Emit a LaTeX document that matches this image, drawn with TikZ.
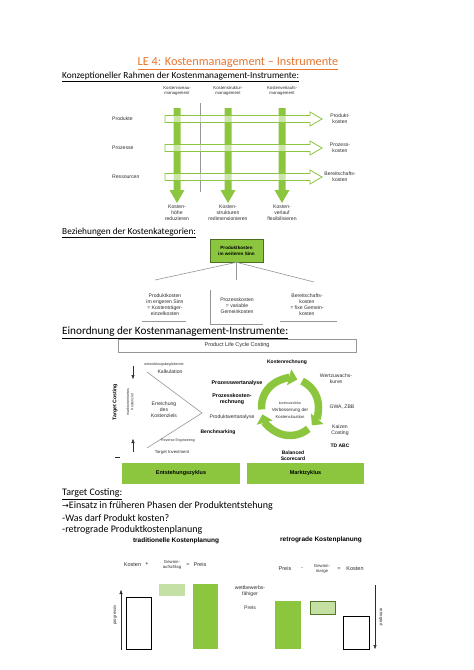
\documentclass[tikz,border=0pt]{standalone}
\usepackage{fontspec}
\setmainfont{Carlito}
\newfontfamily\arial{Liberation Sans}
\newfontfamily\dejavu{DejaVu Sans}
\usetikzlibrary{arrows.meta}
\definecolor{kgreen}{RGB}{140,198,63}
\definecolor{lgreen}{RGB}{197,224,165}
\definecolor{ttl}{RGB}{232,118,46}
\definecolor{dgray}{RGB}{45,45,45}
\definecolor{lgray}{RGB}{150,150,150}
\tikzset{
  sec/.style={anchor=west, inner sep=0pt, font=\fontsize{9.3}{11}\selectfont},
  tcs/.style={anchor=west, inner sep=0pt, font=\fontsize{10}{12}\selectfont},
  lb/.style={align=center, inner sep=0pt, text=dgray, font=\arial\fontsize{5.1}{6}\selectfont},
  lbs/.style={align=center, inner sep=0pt, text=dgray, font=\arial\fontsize{4.3}{5.1}\selectfont},
  lbx/.style={align=center, inner sep=0pt, text=dgray, font=\arial\fontsize{3.6}{4.4}\selectfont},
  lbb/.style={align=center, inner sep=0pt, text=black, font=\arial\bfseries\fontsize{5}{6}\selectfont},
  lbm/.style={align=center, inner sep=0pt, text=dgray, font=\arial\fontsize{5.5}{6.5}\selectfont},
  hollow/.style={draw=kgreen, line width=0.8pt, fill=white, fill opacity=0.55},
  gline/.style={draw=lgray, line width=0.6pt},
  axisarrow/.style={draw=dgray, line width=0.5pt, -{Triangle[width=3pt,length=4pt]}},
  ringarrow/.style={draw=kgreen, line width=7.5pt, -{Triangle[width=16pt,length=8.5pt]}},
  barnode/.style={fill=kgreen, inner sep=0pt, text=black, font=\arial\bfseries\fontsize{5.5}{6.5}\selectfont},
}
\begin{document}
\begin{tikzpicture}[x=1pt,y=-1pt]
\useasboundingbox (0,0) rectangle (474,670);
\fill[white] (0,0) rectangle (474,670);

% ---------- title and first heading
\node[inner sep=0pt, text=ttl, font=\fontsize{12.3}{14}\selectfont] (title) at (238,64) {\underline{LE 4: Kostenmanagement – Instrumente}};
\node[sec] (s1) at (62,77) {\underline{Konzeptioneller Rahmen der Kostenmanagement-Instrumente:}};

% ---------- diagram 1
\foreach \x in {177,228,282}{
  \fill[kgreen] (\x-3.5,108) -- (\x+3.5,108) -- (\x+3.5,190) -- (\x+7.5,190) -- (\x,203) -- (\x-7.5,190) -- (\x-3.5,190) -- cycle;
}
\draw[gline] (200.5,103) -- (200.5,192);
\foreach \y in {119,148,177}{
  \filldraw[hollow] (165,\y-3.5) -- (310,\y-3.5) -- (310,\y-7) -- (322,\y) -- (310,\y+7) -- (310,\y+3.5) -- (165,\y+3.5) -- cycle;
}
\node[lbs] (h1) at (177,91) {Kostenniveau-\\management};
\node[lbs] (h2) at (228,91) {Kostenstruktur-\\management};
\node[lbs] (h3) at (282,91) {Kostenverlaufs-\\management};
\node[lb, anchor=west] (r1) at (112,119) {Produkte};
\node[lb, anchor=west] (r2) at (112,148) {Prozesse};
\node[lb, anchor=west] (r3) at (112,177) {Ressourcen};
\node[lb] (k1) at (340,119) {Produkt-\\kosten};
\node[lb] (k2) at (340,148) {Prozess-\\kosten};
\node[lb] (k3) at (340,177) {Bereitschafts-\\kosten};
\node[lb] (b1) at (177,213) {Kosten-\\höhe\\reduzieren};
\node[lb] (b2) at (228,213) {Kosten-\\strukturen\\redimensionieren};
\node[lb] (b3) at (282,213) {Kosten-\\verlauf\\flexibilisieren};

% ---------- diagram 2
\node[sec] (s2) at (62,233) {\underline{Beziehungen der Kostenkategorien:}};
\node[draw=kgreen!55!black, line width=0.6pt, fill=kgreen, minimum width=53pt, minimum height=23pt, inner sep=0pt, align=center, font=\arial\bfseries\fontsize{4.6}{5.8}\selectfont] (pk) at (236.5,250.5) {Produktkosten\\im weiteren Sinn};
\coordinate (e1) at (155,280);
\coordinate (e2) at (236.5,280);
\coordinate (e3) at (314,282);
\draw[gline] (pk.south) -- (e1);
\draw[gline] (pk.south) -- (e2);
\draw[gline] (pk.south) -- (e3);
\node[lb] (g1) at (165,304.5) {Produktkosten\\im engeren Sinn\\= Kostenträger-\\einzelkosten};
\node[lb] (g2) at (237,306) {Prozesskosten\\= variable\\Gemeinkosten};
\node[lb] (g3) at (307,304.5) {Bereitschafts-\\kosten\\= fixe Gemein-\\kosten};
\draw[gline] (142,321.5) -- (186,321.5);
\draw[gline] (210,290) -- (210,324) -- (263,324);
\draw[gline] (280,321.5) -- (337,321.5);

% ---------- diagram 3
\node[sec, font=\fontsize{11.2}{13}\selectfont] (s3) at (62,333) {\underline{Einordnung der Kostenmanagement-Instrumente:}};
\node[draw=lgray, line width=0.6pt, minimum width=238pt, minimum height=13pt, inner sep=0pt, text=dgray, font=\arial\fontsize{5.5}{6.5}\selectfont] (plcc) at (237,345.5) {Product Life Cycle Costing};

\node[lbb, rotate=90, font=\arial\bfseries\fontsize{5.2}{6}\selectfont] (tc) at (115,402) {Target Costing};
\node[lbx, rotate=90] (mk) at (130,402) {marktorientiertes\\Kostenziel};
\coordinate (ta1) at (133,366);
\coordinate (ta2) at (133,379);
\coordinate (tb1) at (133,452);
\coordinate (tb2) at (133,439);
\draw[axisarrow] (ta1) -- (ta2);
\draw[axisarrow] (tb1) -- (tb2);
\draw[dgray, line width=0.6pt] (115,457) -- (120,457);

\draw[gline] (147,372) -- (202,413) -- (147,448);
\node[lb] (er) at (164,410) {Erreichung\\des\\Kostenziels};
\node[lbx] (ent) at (164,365) {entwicklungsbegleitende};
\node[lb] (kal) at (170,372) {Kalkulation};
\node[lbb, font=\arial\bfseries\fontsize{5.3}{6.3}\selectfont] (pwa) at (237,383) {Prozesswertanalyse};
\node[lbb, font=\arial\bfseries\fontsize{5.3}{6.3}\selectfont] (pkr) at (232,399) {Prozesskosten-\\rechnung};
\node[lb] (prw) at (232,417) {Produktwertanalyse};
\node[lbb] (bm) at (218,432) {Benchmarking};
\node[lbx] (re) at (178,441) {Reverse Engineering};
\node[lbs] (ti) at (172,452) {Target Investment};

\node[lbb] (kr) at (287,362) {Kostenrechnung};
\draw[ringarrow] ([shift={(-185:28.5)}]290,407) arc[start angle=-185, end angle=-75, radius=28.5];
\draw[ringarrow] ([shift={(-65:28.5)}]290,407) arc[start angle=-65, end angle=40, radius=28.5];
\draw[ringarrow] ([shift={(50:28.5)}]290,407) arc[start angle=50, end angle=165, radius=28.5];
\node[inner sep=0pt, text=dgray, font=\arial\fontsize{3.5}{4.2}\selectfont] (kv1) at (290,403) {kontinuierliche};
\node[inner sep=0pt, text=dgray, font=\arial\fontsize{4.6}{5.5}\selectfont] (kv2) at (290,410) {Verbesserung der};
\node[inner sep=0pt, text=dgray, font=\arial\fontsize{4.2}{5}\selectfont] (kv3) at (290,417) {Kostensituation};
\node[lb] (wz) at (336,379) {Wertzuwachs-\\kurve};
\node[lb] (gwa) at (342,407) {GWA, ZBB};
\node[lb] (kc) at (340,430) {Kaizen\\Costing};
\node[lbb] (td) at (340,446) {TD ABC};
\node[lbb] (bsc) at (293,456) {Balanced\\Scorecard};

\node[barnode, minimum width=118pt, minimum height=21pt] (ez) at (181,473.5) {Entstehungszyklus};
\node[barnode, minimum width=117pt, minimum height=21pt] (mz) at (305.5,473.5) {Marktzyklus};

% ---------- target costing
\node[tcs] (s4) at (62,494) {\underline{Target Costing:}};
\node[tcs] (t1) at (62,506) {{\dejavu\fontsize{8}{9}\selectfont →}Einsatz in früheren Phasen der Produktentstehung};
\node[tcs] (t2) at (62,518) {-Was darf Produkt kosten?};
\node[tcs] (t3) at (62,530) {-retrograde Produktkostenplanung};
\node[lbb, font=\arial\bfseries\fontsize{6.5}{7.5}\selectfont] (trad) at (176,541) {traditionelle Kostenplanung};
\node[lbb, font=\arial\bfseries\fontsize{6.5}{7.5}\selectfont] (retr) at (321,540) {retrograde Kostenplanung};

% left chart
\node[lbm] (kL) at (132.5,565) {Kosten};
\node[lbm] (plL) at (147,564) {+};
\node[lbs] (gL) at (172,565) {Gewinn-\\aufschlag};
\node[lbm] (eqL) at (188,565) {=};
\node[lbm] (pL) at (200,565) {Preis};
\draw[black, line width=0.8pt] (126,597) rectangle (151,649);
\fill[lgreen] (159,584) rectangle (185,596);
\fill[kgreen] (193,584) rectangle (218,649);
\coordinate (aL1) at (121,650);
\coordinate (aL2) at (121,590);
\draw[axisarrow] (aL1) -- (aL2);
\node[lbs, rotate=90] (prog) at (115,615) {progressiv};

% middle label
\node[lb] (wf) at (250,591) {wettbewerbs-\\fähiger};
\node[lb] (wpr) at (250,608) {Preis};

% right chart
\node[lbm] (pR) at (285,569) {Preis};
\node[lbm] (miR) at (302,569) {-};
\node[lbs] (gR) at (322,569) {Gewinn-\\marge};
\node[lbm] (eqR) at (339,569) {=};
\node[lbm] (kR) at (355,569) {Kosten};
\fill[kgreen] (275,601) rectangle (301,649);
\filldraw[fill=lgreen, draw=kgreen!60!black, line width=0.5pt] (310,601) rectangle (335,614);
\draw[black, line width=0.8pt] (343,616) rectangle (369,649);
\coordinate (aR1) at (375,585);
\coordinate (aR2) at (375,649);
\draw[axisarrow] (aR1) -- (aR2);
\node[lbs, rotate=-90] (retro) at (381,617) {retrograd};
\end{tikzpicture}
\end{document}
